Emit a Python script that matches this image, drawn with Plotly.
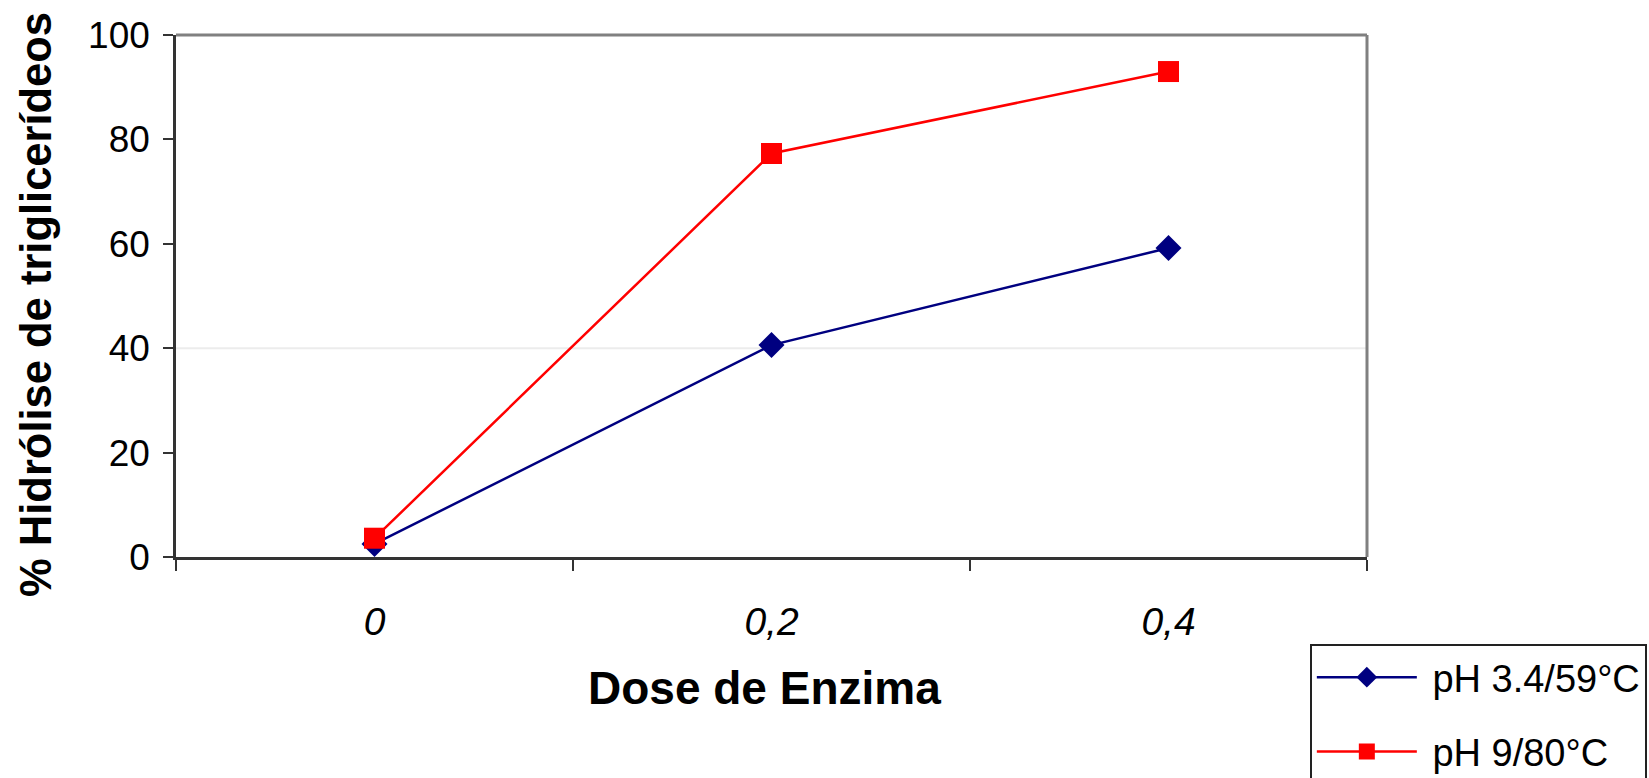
import plotly.graph_objects as go

# Enzyme dose categories and hydrolysis results (%)
doses = ["0", "0,2", "0,4"]
ph34_59c = [2.5, 40.6, 59.2]
ph9_80c = [3.6, 77.3, 93.0]
series_names = ["\u00a0pH 3.4/59°C", "\u00a0pH 9/80°C"]

x_title = "Dose de Enzima"
y_title = "% Hidrólise de triglicerídeos"
y_ticks = [0, 20, 40, 60, 80, 100]

FONT = "Liberation Sans, Arial, sans-serif"

fig = go.Figure()

fig.add_trace(go.Scatter(
    x=doses, y=ph34_59c, name=series_names[0], mode="lines+markers",
    line=dict(color="#000080", width=2.5),
    marker=dict(symbol="diamond", size=20, color="#000080"),
    legendgroup="a",
))
fig.add_trace(go.Scatter(
    x=doses, y=ph9_80c, name=series_names[1], mode="lines+markers",
    line=dict(color="#FF0000", width=2.5),
    marker=dict(symbol="square", size=21, color="#FF0000"),
    legendgroup="b",
))

# faint horizontal reference line
fig.add_shape(type="line", xref="paper", yref="y", x0=0, x1=1, y0=40, y1=40,
              line=dict(color="#ececec", width=2), layer="below")
# grey plot-area frame on top and right
fig.add_shape(type="line", xref="paper", yref="paper", x0=0, x1=1, y0=1, y1=1,
              line=dict(color="#808080", width=3))
fig.add_shape(type="line", xref="paper", yref="paper", x0=1, x1=1, y0=0, y1=1,
              line=dict(color="#808080", width=3))

fig.add_annotation(text=f"<b>{x_title}</b>", xref="paper", yref="paper",
                   x=0.4945, y=-0.251, xanchor="center", yanchor="middle",
                   showarrow=False, font=dict(family=FONT, size=46, color="black"))
fig.add_annotation(text=f"<b>{y_title}</b>", xref="paper", yref="paper",
                   x=-0.1175, y=0.483, xanchor="center", yanchor="middle",
                   textangle=-90, showarrow=False,
                   font=dict(family=FONT, size=43.5, color="black"))

fig.update_xaxes(
    type="category", range=[-0.5, 2.5], tickson="boundaries", ticks="outside",
    ticklen=11, tickwidth=2, tickcolor="#333333", showline=True,
    linecolor="#333333", linewidth=2.5, showgrid=False, zeroline=False,
    tickfont=dict(family=FONT, size=39, color="black", style="italic"),
    ticklabelstandoff=28,
)
fig.update_yaxes(
    range=[0, 100], tickvals=y_ticks, ticks="outside", ticklen=10,
    tickwidth=2, tickcolor="#333333", showline=True, linecolor="#333333",
    linewidth=2.5, showgrid=False, zeroline=False,
    tickfont=dict(family=FONT, size=37, color="black"),
    ticklabelstandoff=6,
)

fig.update_layout(
    width=1649, height=778,
    margin=dict(l=176, r=282, t=35, b=221, autoexpand=False),
    paper_bgcolor="white", plot_bgcolor="white",
    showlegend=True,
    legend=dict(
        x=0.952, y=-0.1667, xanchor="left", yanchor="top",
        bordercolor="#222222", borderwidth=2, bgcolor="white",
        font=dict(family=FONT, size=38, color="black"),
        tracegroupgap=22, itemwidth=100,
    ),
)

fig.write_html("out.html")
